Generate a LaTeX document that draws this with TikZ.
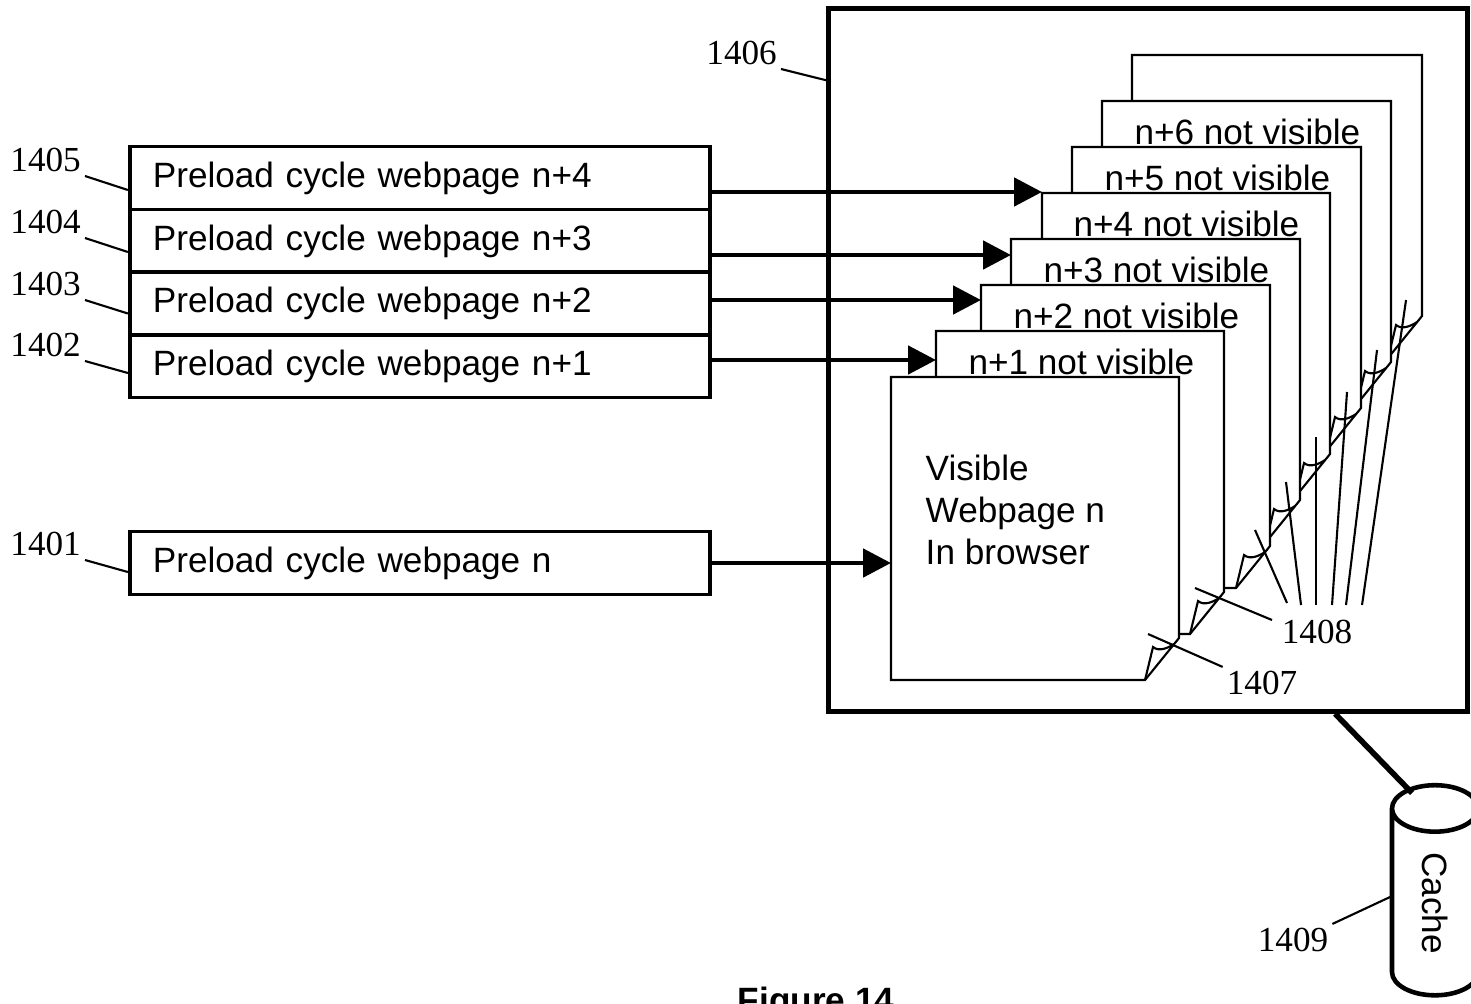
\documentclass[tikz,border=0pt]{standalone}
\usepackage{fontspec}
\setmainfont{Liberation Sans}
\newfontfamily\refnum{Liberation Serif}
\usetikzlibrary{arrows.meta,shapes.geometric}

\begin{document}
\begin{tikzpicture}[x=0.01cm, y=-0.01cm,
    cyclebox/.style={draw, line width=1.1pt, minimum width=5.8cm, minimum height=0.63cm, text width=5.34cm, align=left, inner xsep=0.23cm, inner ysep=0pt},
    page/.style={draw, fill=white, line width=0.6pt},
    flap/.style={line width=0.6pt},
    feed/.style={line width=1.4pt, -{Triangle[length=0.28cm, width=0.28cm]}},
    refno/.style={font=\refnum, inner sep=1pt},
    leader/.style={line width=0.6pt}]
    \useasboundingbox (0,0) rectangle (1471,1003);

    % browser frame
    \node[draw, line width=1.45pt, minimum width=6.38cm, minimum height=7.02cm, inner sep=0pt] (browser) at (1148,360) {};

    % stacked webpages, back to front
    \draw[page] (1132,55) -- (1422,55) -- (1422,316) -- (1388,358) -- (1132,358) -- cycle;
    \draw[flap] (1388,358) -- (1396,325) .. controls (1402,330) and (1411,326) .. (1417,322);
    \draw[page] (1102,101) -- (1391,101) -- (1391,362) -- (1357,404) -- (1102,404) -- cycle;
    \draw[flap] (1357,404) -- (1365,371) .. controls (1371,376) and (1380,372) .. (1386,368);
    \draw[page] (1072,147) -- (1361,147) -- (1361,408) -- (1327,450) -- (1072,450) -- cycle;
    \draw[flap] (1327,450) -- (1335,417) .. controls (1341,422) and (1350,418) .. (1356,414);
    \draw[page] (1042,193) -- (1330,193) -- (1330,454) -- (1296,496) -- (1042,496) -- cycle;
    \draw[flap] (1296,496) -- (1304,463) .. controls (1310,468) and (1319,464) .. (1325,460);
    \draw[page] (1011,239) -- (1300,239) -- (1300,500) -- (1266,542) -- (1011,542) -- cycle;
    \draw[flap] (1266,542) -- (1274,509) .. controls (1280,514) and (1289,510) .. (1295,506);
    \draw[page] (981,285) -- (1270,285) -- (1270,546) -- (1236,588) -- (981,588) -- cycle;
    \draw[flap] (1236,588) -- (1244,555) .. controls (1250,560) and (1259,556) .. (1265,552);
    \draw[page] (936,331) -- (1224,331) -- (1224,592) -- (1190,634) -- (936,634) -- cycle;
    \draw[flap] (1190,634) -- (1198,601) .. controls (1204,606) and (1213,602) .. (1219,598);
    \draw[page] (891,377) -- (1179,377) -- (1179,638) -- (1145,680) -- (891,680) -- cycle;
    \draw[flap] (1145,680) -- (1153,647) .. controls (1159,652) and (1168,648) .. (1174,644);

    \node[anchor=base east, inner sep=0pt] (t6) at (1361,144) {n+6 not visible};
    \node[anchor=base east, inner sep=0pt] (t5) at (1331,190) {n+5 not visible};
    \node[anchor=base east, inner sep=0pt] (t4) at (1300,236) {n+4 not visible};
    \node[anchor=base east, inner sep=0pt] (t3) at (1270,282) {n+3 not visible};
    \node[anchor=base east, inner sep=0pt] (t2) at (1240,328) {n+2 not visible};
    \node[anchor=base east, inner sep=0pt] (t1) at (1195,374) {n+1 not visible};
    \node[anchor=north west, align=left, inner sep=0pt] (visible) at (925,454) {Visible\\Webpage n\\In browser};

    % preload cycles
    \node[cyclebox] (b5) at (420,178) {Preload cycle webpage n+4};
    \node[cyclebox] (b4) at (420,241) {Preload cycle webpage n+3};
    \node[cyclebox] (b3) at (420,303.5) {Preload cycle webpage n+2};
    \node[cyclebox] (b2) at (420,366) {Preload cycle webpage n+1};
    \node[cyclebox] (b1) at (420,563) {Preload cycle webpage n};

    \coordinate (a4) at (1042,192);
    \coordinate (a3) at (1011,255);
    \coordinate (a2) at (981,300);
    \coordinate (a1) at (936,360);
    \coordinate (a0) at (891,563);
    \draw[feed] (b5.east |- a4) -- (a4);
    \draw[feed] (b4.east |- a3) -- (a3);
    \draw[feed] (b3.east |- a2) -- (a2);
    \draw[feed] (b2.east |- a1) -- (a1);
    \draw[feed] (b1.east) -- (a0);

    % cache
    \node[cylinder, draw, line width=1.3pt, shape border rotate=180, rotate=-90, aspect=1.8, minimum height=2.1cm, minimum width=0.86cm, inner sep=0pt] (cache) at (1435,903) {Cache};
    \coordinate (ctop) at (1412,793);
    \draw[line width=1.6pt] ([xshift=1.87cm]browser.south) -- (ctop);

    % reference numerals
    \node[refno, anchor=south east] (r1405) at (85,176) {1405};
    \node[refno, anchor=south east] (r1404) at (85,238) {1404};
    \node[refno, anchor=south east] (r1403) at (85,300) {1403};
    \node[refno, anchor=south east] (r1402) at (85,361) {1402};
    \node[refno, anchor=south east] (r1401) at (85,560) {1401};
    \node[refno, anchor=south east] (r1406) at (781,69) {1406};
    \node[refno] (r1407) at (1262,683) {1407};
    \node[refno] (r1408) at (1317,632) {1408};
    \node[refno] (r1409) at (1293,940) {1409};

    \draw[leader] (r1405.south east) -- ([yshift=-0.12cm]b5.west);
    \draw[leader] (r1404.south east) -- ([yshift=-0.11cm]b4.west);
    \draw[leader] (r1403.south east) -- ([yshift=-0.1cm]b3.west);
    \draw[leader] (r1402.south east) -- ([yshift=-0.07cm]b2.west);
    \draw[leader] (r1401.south east) -- ([yshift=-0.09cm]b1.west);
    \draw[leader] (r1406.south east) -- ([yshift=-0.74cm]browser.north west);

    \coordinate (f0) at (1148,634);
    \draw[leader] (f0) -- (r1407.north west);

    \coordinate (f1) at (1195,588);
    \coordinate (f2) at (1255,530);
    \coordinate (f3) at (1286,482);
    \coordinate (f4) at (1316,437);
    \coordinate (f5) at (1347,392);
    \coordinate (f6) at (1377,350);
    \coordinate (f7) at (1406,300);
    \coordinate (e1) at (1272,620);
    \coordinate (e2) at (1287,603);
    \coordinate (e3) at (1301,605);
    \coordinate (e4) at (1316,605);
    \coordinate (e5) at (1332,605);
    \coordinate (e6) at (1346,605);
    \coordinate (e7) at (1362,605);
    \draw[leader] (f1) -- (e1);
    \draw[leader] (f2) -- (e2);
    \draw[leader] (f3) -- (e3);
    \draw[leader] (f4) -- (e4);
    \draw[leader] (f5) -- (e5);
    \draw[leader] (f6) -- (e6);
    \draw[leader] (f7) -- (e7);

    \coordinate (c9) at (1390,897);
    \draw[leader] (r1409.north east) -- (c9);

    \node[font=\bfseries, anchor=base] (caption) at (816,1012) {Figure 14};
\end{tikzpicture}
\end{document}
